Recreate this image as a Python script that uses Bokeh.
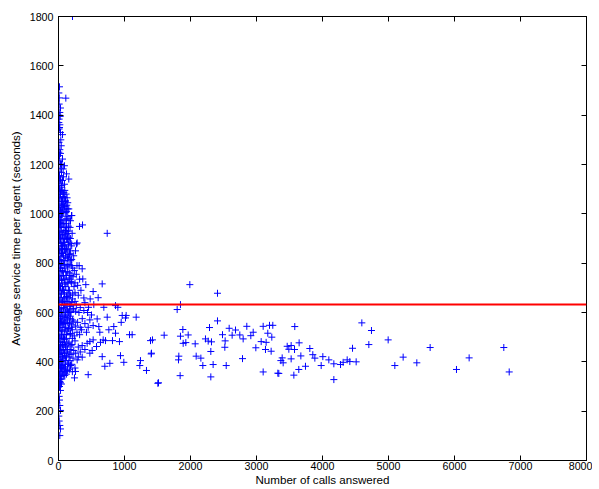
from bokeh.plotting import figure
from bokeh.models import Span, LinearAxis, Range1d, FixedTicker, CustomJSTickFormatter
from bokeh.embed import file_html
from bokeh.resources import INLINE

# mean service time over all agents (red reference line)
mean_service = 632

# agents far from the origin
spread_calls = [1990, 2409, 1848, 1798, 2409, 1884, 1601, 1424, 1848, 1965,
                1889, 1929, 2288, 2485, 2586, 2682, 2631, 2747, 2853, 2950,
                2914, 2798, 2525, 2520, 2227, 2318, 2268, 2071, 2308, 2086,
                2157, 1823, 1818, 1409, 2187, 2343, 2541, 2788, 1843, 2308,
                1515, 3101, 3323, 3101, 3197, 3247, 3171, 3232, 3071, 3146,
                2990, 3136, 3222, 3369, 3580, 3465, 3525, 3576, 3646, 3490,
                3389, 3404, 3525, 3672, 3808, 3853, 3884, 4005, 4096, 4172,
                3980, 3742, 3641, 3338, 3566, 4172, 4273, 4313, 4374, 4414,
                4510, 4455, 4596, 4742, 4702, 4995, 5096, 5222, 5429, 5631,
                6030, 6222, 6747, 6829]
spread_service = [713, 678, 632, 612, 566, 531, 508, 489, 504, 509,
                  475, 478, 539, 510, 536, 529, 508, 509, 544, 520,
                  506, 493, 485, 459, 493, 481, 484, 473, 442, 423,
                  415, 423, 408, 435, 385, 389, 385, 413, 344, 339,
                  315, 359, 354, 544, 548, 548, 516, 500, 482, 479,
                  457, 450, 443, 405, 543, 463, 466, 450, 477, 451,
                  416, 396, 412, 424, 454, 429, 415, 421, 408, 392,
                  385, 382, 369, 353, 346, 328, 389, 398, 408, 401,
                  400, 455, 558, 527, 470, 489, 385, 419, 396, 458,
                  369, 416, 458, 359]

# agents with 600-1500 calls
mid_calls = [1177, 1394, 1404, 1242, 1232, 1333, 1505, 990, 939, 778,
             702, 662, 1116, 1076, 924, 1025, 965, 1015, 950, 864,
             738, 838, 763, 864, 712, 818, 626, 636, 677, 738]
mid_service = [581, 486, 432, 405, 385, 365, 313, 398, 425, 394,
               382, 421, 510, 510, 482, 588, 588, 578, 560, 628,
               581, 543, 530, 516, 486, 486, 520, 479, 489, 921]

# agents with few calls, outer part of the dense group
dense_calls = [212, 15, 111, 10, 30, 20, 10, 20, 10, 30,
               61, 41, 15, 61, 20, 41, 45, 71, 121, 156,
               30, 10, 60, 90, 15, 35, 81, 106, 56, 156,
               5, 25, 45, 70, 10, 30, 90, 120, 140, 60,
               15, 197, 182, 30, 106, 20, 131, 202, 207, 318,
               364, 10, 50, 80, 120, 150, 40, 70, 95, 160,
               10, 55, 25, 115, 140, 283, 273, 258, 10, 35,
               60, 90, 120, 150, 180, 20, 45, 75, 105, 135,
               165, 200, 230, 15, 40, 65, 95, 125, 190, 313,
               359, 368, 662, 414, 10, 30, 55, 85, 110, 140,
               170, 200, 240, 270, 20, 45, 75, 100, 130, 160,
               190, 220, 250, 290, 15, 60, 95, 320, 280, 525,
               384, 601, 535, 687, 899, 455, 10, 35, 60, 90,
               120, 150, 180, 210, 250, 300, 340, 20, 50, 80,
               110, 140, 170, 200, 230, 270, 330, 400, 15, 45,
               75, 105, 135, 165, 190, 260, 310, 480, 440, 586,
               611, 525, 384, 475, 424, 10, 30, 55, 85, 110,
               140, 170, 200, 230, 260, 290, 330, 360, 15, 40,
               65, 95, 120, 150, 180, 210, 240, 280, 320, 350,
               20, 50, 75, 100, 130, 400, 450, 500, 25, 359,
               475, 434, 510, 475, 359, 576, 232, 283, 525, 10,
               35, 60, 90, 115, 145, 175, 205, 250, 300, 330,
               15, 40, 70, 100, 130, 160, 190, 220, 260, 300,
               400, 20, 50, 80, 110, 150, 10, 30, 85, 182,
               258, 242, 450, 10, 30, 55, 80, 105, 135, 170,
               210, 15, 40, 65, 95, 20, 45, 10, 30, 120,
               200, 250, 30, 20, 30, 20, 30, 20, 10, 15,
               5, 10]
dense_service = [1800, 1515, 1469, 1445, 1429, 1411, 1384, 1361, 1344, 1330,
                 1321, 1276, 1236, 1222, 1124, 1108, 1168, 1182, 1162, 1141,
                 1202, 1150, 1135, 1120, 1100, 1090, 1087, 1053, 1026, 1020,
                 1080, 1065, 1050, 1070, 1040, 1015, 1030, 1010, 1045, 1005,
                 1000, 993, 972, 966, 932, 918, 898, 993, 921, 949,
                 955, 985, 975, 960, 980, 950, 945, 925, 910, 905,
                 930, 905, 950, 945, 920, 882, 878, 850, 895, 880,
                 870, 885, 860, 875, 850, 850, 840, 830, 845, 820,
                 835, 815, 830, 815, 805, 860, 810, 895, 880, 790,
                 777, 736, 716, 713, 795, 780, 770, 790, 765, 785,
                 760, 790, 770, 755, 745, 730, 750, 735, 720, 740,
                 725, 745, 720, 710, 710, 705, 715, 735, 790, 685,
                 659, 660, 632, 621, 621, 621, 690, 675, 695, 680,
                 665, 690, 670, 655, 680, 670, 690, 650, 640, 655,
                 635, 645, 625, 640, 615, 630, 620, 640, 615, 605,
                 620, 600, 610, 605, 600, 605, 600, 655, 600, 574,
                 543, 547, 608, 570, 520, 590, 575, 585, 565, 580,
                 560, 575, 550, 565, 545, 560, 540, 575, 540, 525,
                 550, 530, 510, 535, 515, 530, 505, 520, 510, 530,
                 505, 560, 500, 555, 590, 555, 540, 590, 560, 466,
                 482, 475, 446, 435, 419, 462, 446, 408, 489, 495,
                 480, 470, 490, 460, 475, 450, 470, 485, 460, 440,
                 450, 435, 445, 425, 440, 420, 430, 415, 435, 420,
                 450, 410, 400, 415, 405, 395, 430, 465, 470, 385,
                 361, 335, 348, 390, 375, 385, 370, 380, 365, 370,
                 360, 350, 340, 355, 345, 320, 310, 300, 330, 350,
                 390, 375, 284, 223, 203, 142, 128, 101, 260, 245,
                 180, 160]

# agents with few calls, solid core along the left edge
core_calls = [5, 12, 8, 25, 5, 15, 35, 8, 20, 5, 30, 10, 45, 25, 5, 90, 15, 30, 75, 5, 50,
              8, 52, 95, 30, 70, 115, 12, 88, 130, 5, 60, 100,
              38, 75, 125, 18, 95, 140, 45, 80, 110, 8, 35, 140,
              22, 100, 160, 55, 120, 15, 5, 85, 175, 40, 125, 150,
              15, 65, 110, 30, 140, 180, 5, 75, 160, 45, 100, 200,
              20, 130, 90, 60, 10, 170, 35, 110, 150, 5, 80, 185,
              50, 130, 160, 25, 95, 215, 10, 65, 140, 40, 120, 190,
              15, 85, 170, 55, 145, 200, 30, 110, 235, 8, 75, 165,
              45, 130, 215, 20, 95, 160, 60, 125, 250, 10, 90, 185,
              40, 115, 220, 25, 70, 150, 5, 95, 180, 50, 130, 210,
              15, 80, 165, 35, 110, 195, 5, 65, 140, 45, 95, 175,
              20, 120, 210, 55, 85, 160, 10, 105, 190, 40, 70, 135,
              25, 90, 160, 5, 60, 120, 35, 100, 175, 15, 70, 140,
              45, 95, 20, 5, 55, 110, 25, 80, 10, 50, 30, 5, 15]
core_service = [1490, 1470, 1400, 1395, 1370, 1350, 1300, 1290, 1260, 1250, 1245, 1215, 1200,
                1185, 1170, 1195, 1155, 1140, 1150, 1130, 1115,
                1095, 1095, 1095, 1080, 1080, 1080, 1065, 1065, 1065, 1050, 1050, 1050,
                1035, 1035, 1035, 1020, 1020, 1020, 1005, 1005, 1005, 990, 990, 990,
                975, 975, 975, 960, 960, 960, 945, 945, 945, 930, 930, 930,
                915, 915, 915, 900, 900, 900, 885, 885, 885, 870, 870, 870,
                855, 855, 855, 840, 840, 840, 825, 825, 825, 810, 810, 810,
                795, 795, 795, 780, 780, 780, 765, 765, 765, 750, 750, 750,
                735, 735, 735, 720, 720, 720, 705, 705, 705, 690, 690, 690,
                675, 675, 675, 660, 660, 660, 645, 645, 645, 630, 630, 630,
                615, 615, 615, 600, 600, 600, 585, 585, 585, 570, 570, 570,
                555, 555, 555, 540, 540, 540, 525, 525, 525, 510, 510, 510,
                495, 495, 495, 480, 480, 480, 465, 465, 465, 450, 450, 450,
                435, 435, 435, 420, 420, 420, 405, 405, 405, 390, 390, 390,
                375, 375, 375, 360, 360, 360, 345, 345, 330, 330, 315, 315, 300]

calls = spread_calls + mid_calls + dense_calls + core_calls
service = spread_service + mid_service + dense_service + core_service

x_ticks = [0, 1000, 2000, 3000, 4000, 5000, 6000, 7000, 8000]
y_ticks = [0, 200, 400, 600, 800, 1000, 1200, 1400, 1600, 1800]

font = "Liberation Sans"

p = figure(width=592, height=489, output_backend="svg", toolbar_location=None,
           x_range=Range1d(0, 8000), y_range=Range1d(0, 1800),
           x_axis_label="Number of calls answered",
           y_axis_label="Average service time per agent (seconds)",
           min_border_left=58, min_border_right=6, min_border_top=16, min_border_bottom=29)

p.scatter(calls, service, marker="cross", size=7, line_color="#0000ff", line_width=1)

p.add_layout(Span(location=mean_service, dimension="width", line_color="red", line_width=2))

p.xgrid.visible = False
p.ygrid.visible = False
p.outline_line_color = "black"
p.outline_line_width = 1
p.outline_line_alpha = 1

for ax in (p.xaxis[0], p.yaxis[0]):
    ax.major_label_text_font = font
    ax.major_label_text_font_size = "10.7px"
    ax.major_label_text_color = "black"
    ax.axis_label_text_font = font
    ax.axis_label_text_font_size = "11.6px"
    ax.axis_label_text_font_style = "normal"
    ax.axis_label_text_color = "black"
    ax.major_tick_in = 5
    ax.major_tick_out = 0
    ax.minor_tick_in = 0
    ax.minor_tick_out = 0
    ax.axis_line_width = 1
    ax.major_tick_line_color = "black"
    ax.axis_line_color = "black"

p.xaxis[0].ticker = FixedTicker(ticks=x_ticks)
p.yaxis[0].ticker = FixedTicker(ticks=y_ticks)
p.xaxis[0].major_label_standoff = 1
p.xaxis[0].axis_label_standoff = 0
p.yaxis[0].major_label_standoff = 5
p.yaxis[0].axis_label_standoff = 5

# tick marks on the top and right edges of the box
blank = CustomJSTickFormatter(code="return ''")
top = LinearAxis(ticker=FixedTicker(ticks=x_ticks), formatter=blank,
                 major_tick_in=5, major_tick_out=0, minor_tick_in=0, minor_tick_out=0,
                 major_label_standoff=0, axis_line_width=1)
right = LinearAxis(ticker=FixedTicker(ticks=y_ticks), formatter=blank,
                   major_tick_in=5, major_tick_out=0, minor_tick_in=0, minor_tick_out=0,
                   major_label_standoff=0, axis_line_width=1)
p.add_layout(top, "above")
p.add_layout(right, "right")

open("out.html", "w").write(file_html(p, INLINE))
